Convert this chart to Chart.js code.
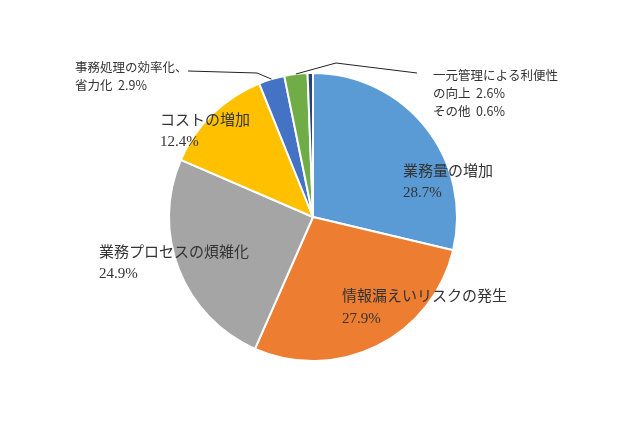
<!DOCTYPE html>
<html>
<head>
<meta charset="utf-8">
<script src="https://cdn.jsdelivr.net/npm/chart.js@4.4.1/dist/chart.umd.min.js"></script>
<style>
  html, body { margin: 0; padding: 0; background: #fff; }
  #wrap { width: 640px; height: 426px; }
</style>
</head>
<body>
<div id="wrap"><canvas id="pieChart" width="640" height="426"></canvas></div>
<script>
// Data
const categories = ['業務量の増加', '情報漏えいリスクの発生', '業務プロセスの煩雑化', 'コストの増加', '事務処理の効率化、省力化', '一元管理による利便性の向上', 'その他'];
const shares = [28.7, 27.9, 24.9, 12.4, 2.9, 2.6, 0.6];
const colors = ['#5B9BD5', '#ED7D31', '#A5A5A5', '#FFC000', '#4472C4', '#70AD47', '#264478'];

// Label layout (text lines and where they sit)
const bigFont = '15px "Liberation Serif", "Noto Sans CJK JP", serif';
const smallFont = '12.5px "Noto Sans CJK JP", sans-serif';
const labelLayout = [
    { lines: ['業務量の増加', '28.7%'], x: 403, y: [172, 193], font: bigFont },
    { lines: ['情報漏えいリスクの発生', '27.9%'], x: 342, y: [297, 319], font: bigFont },
    { lines: ['業務プロセスの煩雑化', '24.9%'], x: 99, y: [253, 274], font: bigFont },
    { lines: ['コストの増加', '12.4%'], x: 160, y: [121, 142], font: bigFont },
    { lines: ['事務処理の効率化、', '省力化  2.9%'], x: 75, y: [67, 85], font: smallFont },
    { lines: ['一元管理による利便性', 'の向上  2.6%'], x: 433, y: [75, 93], font: smallFont },
    { lines: ['その他  0.6%'], x: 433, y: [111], font: smallFont }
];
// leader lines: slice index -> elbow points (from the slice edge outward)
const leaders = [
    { idx: 4, pts: [[257, 73], [188, 71]] },
    { idx: 5, pts: [[336, 63], [417, 73]] }
];

const labelPlugin = {
    id: 'labels',
    afterDraw(chart) {
        const ctx = chart.ctx;
        const arcs = chart.getDatasetMeta(0).data;
        ctx.save();
        ctx.fillStyle = '#333';
        ctx.textBaseline = 'middle';
        ctx.textAlign = 'left';
        labelLayout.forEach(l => {
            ctx.font = l.font;
            l.lines.forEach((t, i) => ctx.fillText(t, l.x, l.y[i]));
        });
        ctx.strokeStyle = '#222';
        ctx.lineWidth = 1;
        leaders.forEach(ld => {
            const a = arcs[ld.idx];
            const mid = (a.startAngle + a.endAngle) / 2;
            const sx = a.x + Math.cos(mid) * a.outerRadius;
            const sy = a.y + Math.sin(mid) * a.outerRadius;
            ctx.beginPath();
            ctx.moveTo(sx, sy);
            ld.pts.forEach(p => ctx.lineTo(p[0], p[1]));
            ctx.stroke();
        });
        ctx.restore();
    }
};

new Chart(document.getElementById('pieChart').getContext('2d'), {
    type: 'pie',
    data: {
        labels: categories,
        datasets: [{
            data: shares,
            backgroundColor: colors,
            borderColor: '#ffffff',
            borderWidth: 2
        }]
    },
    options: {
        responsive: false,
        animation: false,
        layout: { padding: { left: 168, right: 182, top: 72, bottom: 64 } },
        plugins: {
            legend: { display: false },
            tooltip: { enabled: false }
        }
    },
    plugins: [labelPlugin]
});
</script>
</body>
</html>
